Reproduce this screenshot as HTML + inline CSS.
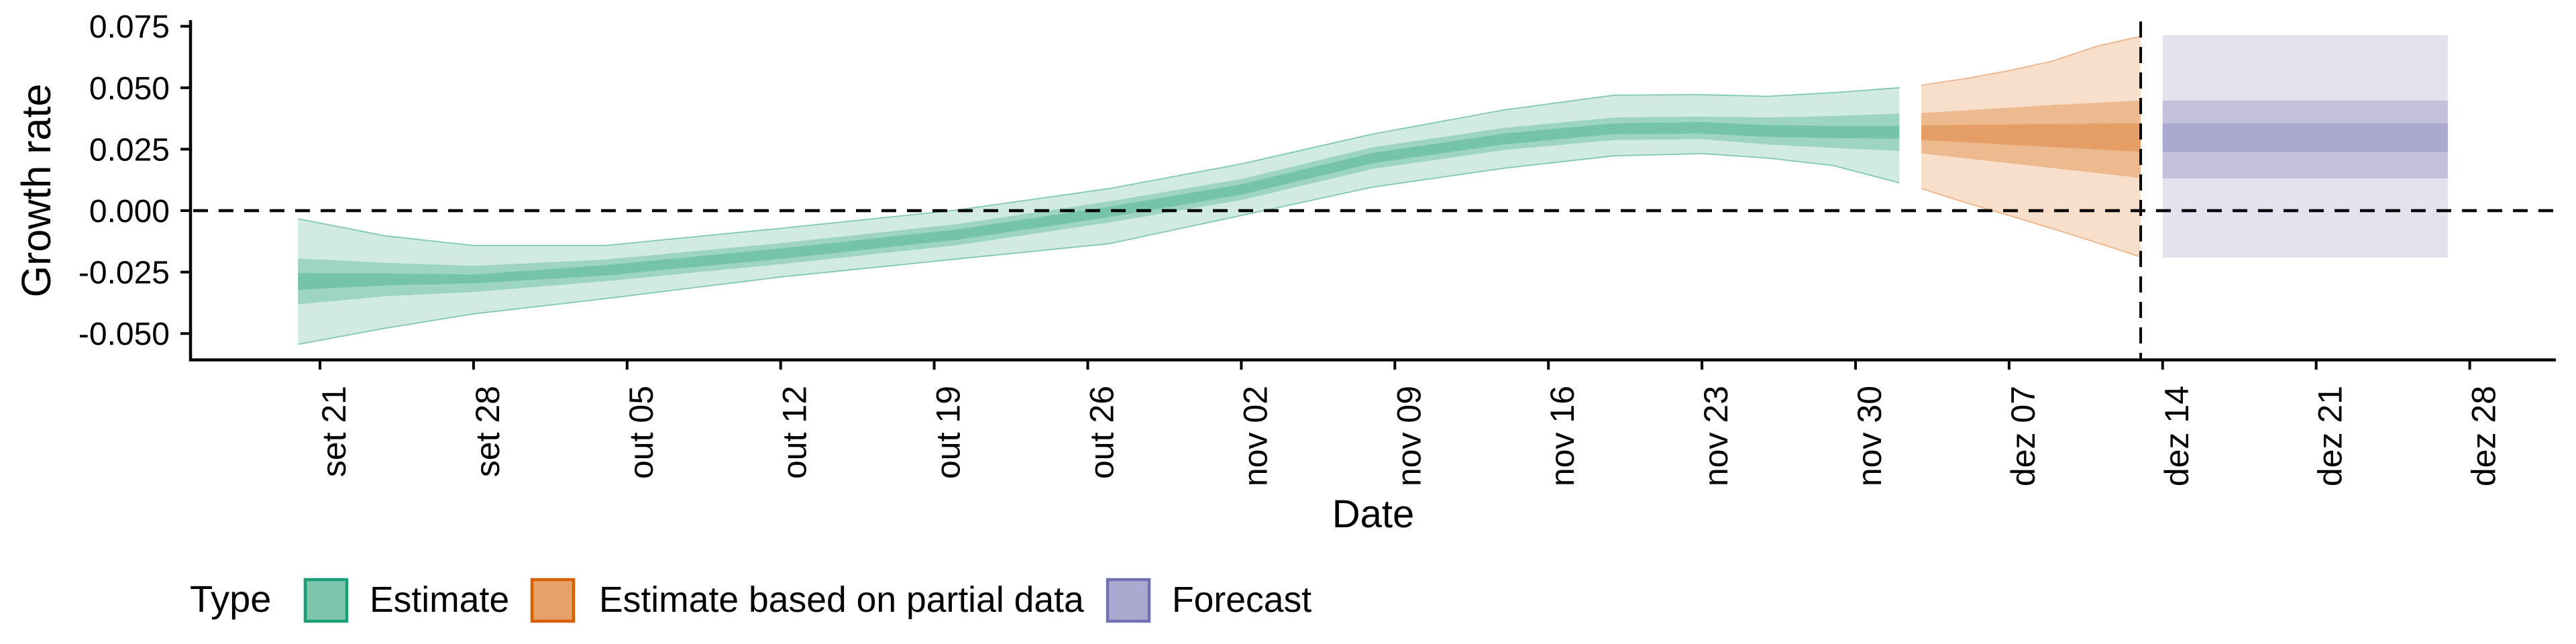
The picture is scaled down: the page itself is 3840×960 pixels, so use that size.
<!DOCTYPE html>
<html><head><meta charset="utf-8"><style>
html,body{margin:0;padding:0;background:#fff;}
svg{display:block;font-family:"Liberation Sans",sans-serif;}
</style></head><body>
<svg id="chart" width="3840" height="960" viewBox="0 0 3840 960" xmlns="http://www.w3.org/2000/svg">
<g id="bands"></g>
<g id="axes"></g>
<text x="0" y="0" font-size="61" text-anchor="middle" transform="translate(75,284) rotate(-90)">Growth rate</text>
<text x="2047" y="786" font-size="58" text-anchor="middle">Date</text>
<g>
<text x="283" y="912" font-size="56">Type</text>
<g>
<rect x="455" y="864" width="62" height="62" fill="#7cc7ae" stroke="#1b9e77" stroke-width="4.5"/>
<text x="551" y="912" font-size="53.5">Estimate</text></g>
<g>
<rect x="793" y="864" width="62" height="62" fill="#e6a06a" stroke="#d95f02" stroke-width="4.5"/>
<text x="893" y="912" font-size="53.5">Estimate based on partial data</text></g>
<g>
<rect x="1651" y="864" width="62" height="62" fill="#aba9cf" stroke="#7570b3" stroke-width="4.5"/>
<text x="1747" y="912" font-size="53.5">Forecast</text></g>
</g>
</svg>
<script>
// ---- data ----
const estDays   = [0, 4, 8, 14, 22, 30, 37, 43, 49, 55, 60, 64, 67, 70, 73];
const estMedian = [-0.0288,-0.028,-0.0278,-0.0243,-0.0175,-0.0098,-0.0005,0.0086,0.0214,0.0292,0.0333,0.0337,0.0324,0.032,0.0319];
const estInnerHalf = [0.0034,0.0024,0.0018,0.0021,0.0021,0.0021,0.0021,0.0021,0.0021,0.0022,0.0022,0.0023,0.0024,0.0025,0.0026];
const estMidHalf   = [0.0093,0.0068,0.0053,0.0044,0.0043,0.0043,0.0043,0.0043,0.0044,0.0045,0.0046,0.0046,0.0055,0.0065,0.0076];
const estOuterHi = [-0.0033,-0.0103,-0.0142,-0.0142,-0.0072,0.0002,0.009,0.019,0.0312,0.041,0.047,0.0472,0.0465,0.048,0.050];
const estOuterLo = [-0.0544,-0.0478,-0.042,-0.0358,-0.027,-0.0197,-0.0134,-0.002,0.0096,0.0173,0.0223,0.0232,0.0214,0.0183,0.0113];

const partDays    = [74, 76, 78, 80, 82, 84];
const partOuterHi = [0.051,0.0537,0.057,0.0609,0.0669,0.0709];
const partOuterLo = [0.009,0.0033,-0.002,-0.0074,-0.013,-0.0189];
const partMidHi   = [0.0397,0.0408,0.0419,0.043,0.0439,0.0448];
const partMidLo   = [0.0233,0.0213,0.0193,0.0173,0.0153,0.0133];
const partInnerHi = [0.0347,0.0349,0.0351,0.0352,0.0354,0.0355];
const partInnerLo = [0.0287,0.0278,0.0268,0.0259,0.0249,0.024];

const fcDays  = [85, 98];
const fcOuter = [-0.0191, 0.0714];
const fcMid   = [0.0131, 0.0448];
const fcInner = [0.0238, 0.0355];

const yTicks = [0.075, 0.05, 0.025, 0, -0.025, -0.05];
const yTickLabels = ["0.075","0.050","0.025","0.000","-0.025","-0.050"];
const xTickDays = [1,8,15,22,29,36,43,50,57,64,71,78,85,92,99];
const xTickLabels = ["set 21","set 28","out 05","out 12","out 19","out 26","nov 02","nov 09","nov 16","nov 23","nov 30","dez 07","dez 14","dez 21","dez 28"];
const nowcastDay = 84;

// ---- scales ----
const X = d => 444.3 + d * 32.7;
const Y = v => 314 - v * 3664;
const NS = "http://www.w3.org/2000/svg";
const bands = document.getElementById('bands');
const axes = document.getElementById('axes');

function mk(tag, attrs, parent) {
  const e = document.createElementNS(NS, tag);
  for (const k in attrs) e.setAttribute(k, attrs[k]);
  parent.appendChild(e);
  return e;
}
function ribbon(days, lo, hi, fill, name) {
  const pts = [];
  days.forEach((d, i) => pts.push(X(d).toFixed(1) + ',' + Y(hi[i]).toFixed(1)));
  for (let i = days.length - 1; i >= 0; i--) pts.push(X(days[i]).toFixed(1) + ',' + Y(lo[i]).toFixed(1));
  const p = mk('polygon', {points: pts.join(' '), fill: fill}, bands);
  
  
  return p;
}
function edge(days, vals, stroke, name) {
  const pts = days.map((d, i) => X(d).toFixed(1) + ',' + Y(vals[i]).toFixed(1)).join(' ');
  const p = mk('polyline', {points: pts, fill: 'none', stroke: stroke, 'stroke-width': 1.8}, bands);
  
  
}

// estimate
const eInLo = estMedian.map((m, i) => m - estInnerHalf[i]);
const eInHi = estMedian.map((m, i) => m + estInnerHalf[i]);
const eMidLo = estMedian.map((m, i) => m - estMidHalf[i]);
const eMidHi = estMedian.map((m, i) => m + estMidHalf[i]);
ribbon(estDays, estOuterLo, estOuterHi, '#d2ebe2', 'estimate-90-band');
edge(estDays, estOuterHi, '#7fc8b0', 'estimate-upper-edge');
edge(estDays, estOuterLo, '#7fc8b0', 'estimate-lower-edge');
ribbon(estDays, eMidLo, eMidHi, '#9dd4c2', 'estimate-50-band');
ribbon(estDays, eInLo, eInHi, '#76c3ac', 'estimate-20-band');

// partial
ribbon(partDays, partOuterLo, partOuterHi, '#f7dfcb', 'partial-90-band');
edge(partDays, partOuterHi, '#eeb48a', 'partial-upper-edge');
edge(partDays, partOuterLo, '#eeb48a', 'partial-lower-edge');
ribbon(partDays, partMidLo, partMidHi, '#edb98f', 'partial-50-band');
ribbon(partDays, partInnerLo, partInnerHi, '#e59e66', 'partial-20-band');

// forecast
ribbon(fcDays, [fcOuter[0], fcOuter[0]], [fcOuter[1], fcOuter[1]], '#e3e3ef', 'forecast-90-band');
ribbon(fcDays, [fcMid[0], fcMid[0]], [fcMid[1], fcMid[1]], '#c3c0dc', 'forecast-50-band');
ribbon(fcDays, [fcInner[0], fcInner[0]], [fcInner[1], fcInner[1]], '#aba9cf', 'forecast-20-band');

// zero line
const z = mk('line', {x1: 288, x2: 3810, y1: Y(0), y2: Y(0), stroke: '#000', 'stroke-width': 4.5, 'stroke-dasharray': '22 16'}, axes);


// nowcast vertical line
const vx = X(nowcastDay);
const vl = mk('line', {x1: vx, x2: vx, y1: 32, y2: 536, stroke: '#000', 'stroke-width': 4, 'stroke-dasharray': '24 14'}, axes);



// axes lines
const ya = mk('line', {x1: 284, x2: 284, y1: 30, y2: 538.5, stroke: '#000', 'stroke-width': 4.5}, axes);


const xa = mk('line', {x1: 282, x2: 3810, y1: 536.5, y2: 536.5, stroke: '#000', 'stroke-width': 4.5}, axes);



yTicks.forEach((v, i) => {
  const t = mk('line', {x1: 269, x2: 284, y1: Y(v), y2: Y(v), stroke: '#000', 'stroke-width': 4}, axes);
  
  
  const l = mk('text', {x: 253, y: Y(v) + 17, 'font-size': 48, 'text-anchor': 'end'}, axes);
  l.textContent = yTickLabels[i];
  
  
});
xTickDays.forEach((d, i) => {
  const t = mk('line', {x1: X(d), x2: X(d), y1: 538, y2: 551, stroke: '#000', 'stroke-width': 4}, axes);
  
  
  const lx = X(d) + 38;
  const l = mk('text', {x: 0, y: 0, 'font-size': 50, 'text-anchor': 'end', transform: 'translate(' + lx + ',575) rotate(-90)'}, axes);
  l.textContent = xTickLabels[i];
  
  
});
</script>
</body></html>
